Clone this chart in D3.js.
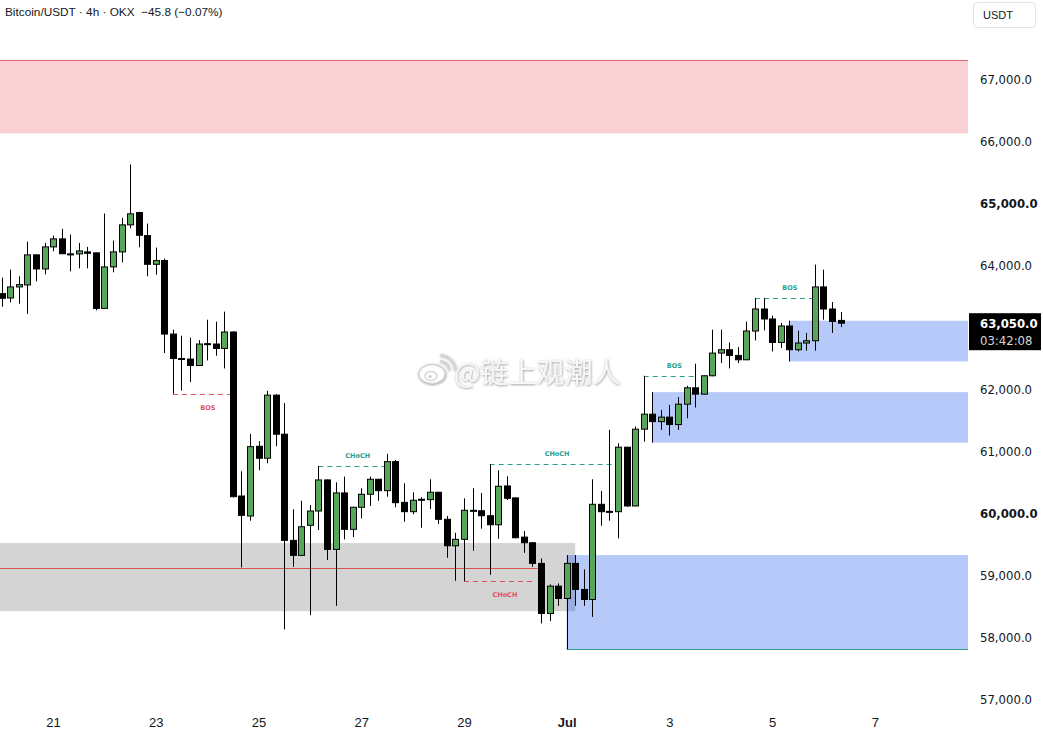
<!DOCTYPE html>
<html>
<head>
<meta charset="utf-8">
<script src="https://cdn.jsdelivr.net/npm/d3@7"></script>
<style>
  html, body { margin: 0; padding: 0; background: #fff; }
  svg { display: block; }
</style>
</head>
<body>
<svg id="chart" width="1043" height="738"></svg>
<script>
// ---------------- DATA ----------------
const startTime = "2024-06-20T00:00:00Z"; // first 4h candle
const candleHours = 4;
const opens = [63527,63457,63635,63667,64152,63925,64281,64410,64168,64168,64200,64184,63289,63958,64200,64636,64835,64463,64000,64060,
  62875,62481,62471,62368,62714,62714,62643,62908,60263,59940,61065,60872,61890,61260,59547,59305,59790,60021,60522,59402,
  60312,59725,60081,60291,60533,60349,60817,60160,60010,60194,60204,60323,59887,59460,59564,60032,60025,59945,59799,60425,
  60232,59600,59509,59176,58368,58809,58610,59176,58756,58594,60129,60010,60010,61050,60102,61341,61583,61463,61535,61415,
  61744,62008,61906,62202,62568,62622,62530,62460,62924,63279,63118,62740,63005,62622,62730,62767,63635,63279,63095];
const highs = [63785,63914,63806,64366,64160,64345,64463,64572,64480,64345,64281,64190,64819,64383,64749,65610,64846,64657,64270,64092,
  62945,62848,62816,62778,63106,63074,63236,62918,60662,61265,61147,61959,61906,61761,60048,60187,60118,60748,60530,60484,
  60575,60090,60388,60575,60540,60942,60845,60468,60323,60242,60533,60330,59940,59670,60226,60388,60312,60780,60678,60581,
  60240,59698,59515,59257,58837,58853,59310,59310,59079,60533,60344,61329,61114,61055,61383,62202,61938,61652,61733,61858,
  62040,62396,62210,62945,62945,62740,62665,63074,63457,63457,63171,63053,63090,62928,62892,63995,63914,63392,63231];
const lows = [63317,63386,63365,63199,63725,63838,64210,64165,63887,63935,63935,63257,63280,63871,64032,64581,64274,63806,63833,62568,
  61911,61964,62100,62360,62449,62525,62320,60240,59111,59864,60678,60791,61066,58110,59121,59300,58341,59714,59229,58491,
  59564,59600,59903,60102,60187,60252,60081,59848,59968,59751,60053,59811,59266,58895,58890,59379,59735,58992,59573,60198,
  59580,59347,59121,58207,58244,58491,57791,58491,58491,58313,59783,59864,59580,60090,60100,61140,61124,61329,61237,61329,
  61518,61690,61900,62195,62407,62320,62407,62455,62772,62934,62594,62649,62433,62594,62606,62606,63106,62892,62988];
const closes = [63451,63635,63672,64152,63925,64281,64410,64170,64160,64216,64177,63289,63958,64200,64636,64814,64468,64000,64060,62875,
  62481,62475,62368,62714,62720,62643,62908,60252,59951,61059,60872,61890,61260,59547,59305,59767,60021,60522,59402,60312,
  59725,60081,60291,60533,60349,60817,60155,60010,60194,60210,60323,59887,59460,59564,60032,60025,59945,59799,60420,60226,
  59590,59509,59176,58368,58809,58610,59176,58756,58594,60129,60010,60015,61050,60102,61341,61583,61463,61535,61415,61744,
  62008,61906,62202,62568,62622,62530,62460,62924,63279,63118,62740,63005,62622,62730,62767,63635,63279,63079,63050];

// price axis ticks
const priceTicks = [57000,58000,59000,60000,61000,62000,64000,65000,66000,67000];
const boldTicks = [60000, 65000];
// date axis ticks and labels
const dateTicks = ["2024-06-21","2024-06-23","2024-06-25","2024-06-27","2024-06-29","2024-07-01","2024-07-03","2024-07-05","2024-07-07"];
const dateLabels = ["21","23","25","27","29","Jul","3","5","7"];

// zones: start candle index (null = left edge), end index (null = right edge), top and bottom prices
const zoneKinds   = ["supply","range","demand","demand","demand"];
const zoneStarts  = [null, null, 66, 76, 92];
const zoneEnds    = [null, 67, null, null, null];
const zoneTops    = [67291, 59504, 59310, 61938, 63090];
const zoneBottoms = [66111, 58405, 57791, 61124, 62433];

// a horizontal level
const levelPrice = 59100, levelEnd = 62.6;

// structure annotations: label, start index, end index, price, side
const annLabels = ["BOS","CHoCH","CHoCH","CHoCH","BOS","BOS"];
const annStart  = [20, 37, 57, 54, 75, 88];
const annEnd    = [27, 45, 71.6, 62.4, 81, 95];
const annPrice  = [61906, 60748, 60780, 58890, 62202, 63457];
const annBull   = [false, true, true, false, true, true];

const lastPrice = 63050;
const countdown = "03:42:08";
const title = "Bitcoin/USDT · 4h · OKX \u00a0−45.8 (−0.07%)";
const watermark = "@链上观潮人";

// ---------------- DRAW ----------------
const W = 1043, Hh = 738, plotRight = 968;
const svg = d3.select("#chart");
svg.append("rect").attr("width", W).attr("height", Hh).attr("fill", "#fff");

const DAY = 864e5;
const t0 = new Date(startTime).getTime();
const pxPerDay = 51.36, firstX = 1.7;
const x = d3.scaleUtc()
  .domain([new Date(t0 - firstX / pxPerDay * DAY), new Date(t0 + (plotRight - firstX) / pxPerDay * DAY)])
  .range([0, plotRight]);
const y = d3.scaleLinear().domain([57000, 67000]).range([698.3, 78.3]);

const tAt = i => new Date(t0 + i * candleHours * 3600e3);
const xi = i => i === null ? null : x(tAt(i));
const step = xi(1) - xi(0);
const bw = Math.round(step * 0.72);

const candles = opens.map((o, i) => ({ i, o, h: highs[i], l: lows[i], c: closes[i] }));

const defs = svg.append("defs");
defs.append("clipPath").attr("id", "plotclip").append("rect")
  .attr("x", 0).attr("y", 0).attr("width", plotRight).attr("height", 710);
const f = defs.append("filter").attr("id", "wm").attr("x", "-10%").attr("y", "-30%").attr("width", "120%").attr("height", "160%");
f.append("feDropShadow").attr("dx", 0.5).attr("dy", 0.8).attr("stdDeviation", 1.2)
  .attr("flood-color", "#7a7a7a").attr("flood-opacity", 0.8);

const plot = svg.append("g").attr("clip-path", "url(#plotclip)");

// zones
const zoneFill = { supply: "#f9d1d5", range: "#d4d4d4", demand: "rgba(41,98,238,0.34)" };
[0, 1, 2, 3, 4].forEach(k => {
  const x0 = zoneStarts[k] === null ? 0 : xi(zoneStarts[k]);
  const x1 = zoneEnds[k] === null ? plotRight : xi(zoneEnds[k]);
  plot.append("rect")
    .attr("x", x0).attr("y", y(zoneTops[k]))
    .attr("width", x1 - x0).attr("height", y(zoneBottoms[k]) - y(zoneTops[k]))
    .attr("fill", zoneFill[zoneKinds[k]]);
  if (zoneKinds[k] === "supply") {
    plot.append("line").attr("x1", x0).attr("x2", x1)
      .attr("y1", Math.round(y(zoneTops[k])) + 0.5).attr("y2", Math.round(y(zoneTops[k])) + 0.5)
      .attr("stroke", "#e06673").attr("stroke-width", 1);
  }
  if (k === 2) {
    plot.append("line").attr("x1", x0).attr("x2", x1)
      .attr("y1", Math.round(y(zoneBottoms[k])) + 0.5).attr("y2", Math.round(y(zoneBottoms[k])) + 0.5)
      .attr("stroke", "#2f9e8f").attr("stroke-width", 1);
  }
});

// level line
plot.append("line").attr("x1", 0).attr("x2", xi(levelEnd))
  .attr("y1", Math.round(y(levelPrice)) + 0.5).attr("y2", Math.round(y(levelPrice)) + 0.5)
  .attr("stroke", "#d9534f").attr("stroke-width", 1);

// annotations
const bullCol = "#2a9d8f", bearCol = "#e0505e";
annLabels.forEach((lab, k) => {
  const col = annBull[k] ? bullCol : bearCol;
  const yy = Math.round(y(annPrice[k])) + 0.5;
  const xa = xi(annStart[k]), xb = xi(annEnd[k]);
  plot.append("line").attr("x1", xa).attr("x2", xb).attr("y1", yy).attr("y2", yy)
    .attr("stroke", col).attr("stroke-width", 1).attr("stroke-dasharray", "5,4");
  plot.append("text").attr("x", (xa + xb) / 2 + 5).attr("y", annBull[k] ? yy - 9 : yy + 15)
    .attr("text-anchor", "middle").attr("font-family", "'DejaVu Sans', sans-serif")
    .attr("font-size", 6.5).attr("font-weight", "bold").attr("fill", col).text(lab);
});

// candles
const cg = plot.append("g");
cg.selectAll("line.wick").data(candles).join("line")
  .attr("x1", d => Math.round(xi(d.i)) + 0.5).attr("x2", d => Math.round(xi(d.i)) + 0.5)
  .attr("y1", d => y(d.h)).attr("y2", d => y(d.l))
  .attr("stroke", "#000").attr("stroke-width", 1);
cg.selectAll("rect.body").data(candles).join("rect")
  .attr("x", d => Math.round(xi(d.i)) + 0.5 - bw / 2)
  .attr("y", d => y(Math.max(d.o, d.c)))
  .attr("width", bw)
  .attr("height", d => Math.max(1, Math.abs(y(d.o) - y(d.c))))
  .attr("fill", d => d.c >= d.o ? "#58a65a" : "#000")
  .attr("stroke", "#000").attr("stroke-width", 1);

// watermark
const wm = svg.append("g").attr("filter", "url(#wm)");
const ic = wm.append("g").attr("transform", "translate(432,374)");
ic.append("ellipse").attr("rx", 13).attr("ry", 9.5).attr("fill", "#fff").attr("stroke", "#d6d6d6").attr("stroke-width", 1.5);
ic.append("ellipse").attr("cx", -1).attr("cy", 2).attr("rx", 6).attr("ry", 4.5).attr("fill", "none").attr("stroke", "#d6d6d6").attr("stroke-width", 1.5);
ic.append("circle").attr("cx", -2).attr("cy", 2.5).attr("r", 1.6).attr("fill", "#cccccc");
ic.append("path").attr("d", "M8,-13 A9,9 0 0 1 17,-4").attr("fill", "none").attr("stroke", "#d6d6d6").attr("stroke-width", 2);
ic.append("path").attr("d", "M8,-19 A15,15 0 0 1 23,-4").attr("fill", "none").attr("stroke", "#d6d6d6").attr("stroke-width", 2);
wm.append("text").attr("x", 454).attr("y", 383)
  .attr("font-family", "'Noto Sans CJK SC', sans-serif").attr("font-size", 28)
  .attr("fill", "#f7f7f7").text(watermark);

// y axis
const yAxis = d3.axisRight(y).tickValues(priceTicks).tickSize(0).tickPadding(0)
  .tickFormat(d3.format(",.1f"));
const yg = svg.append("g").attr("transform", `translate(980,1.5)`).call(yAxis);
yg.select(".domain").remove();
yg.selectAll("text")
  .attr("font-family", "'DejaVu Sans', sans-serif").attr("font-size", 11.7)
  .attr("fill", "#131722")
  .attr("font-weight", d => boldTicks.includes(d) ? "bold" : "normal");

// x axis
const xAxis = d3.axisBottom(x).tickValues(dateTicks.map(s => new Date(s + "T00:00:00Z")))
  .tickSize(0).tickPadding(0).tickFormat((d, i) => dateLabels[i]);
const xg = svg.append("g").attr("transform", `translate(0,718)`).call(xAxis);
xg.select(".domain").remove();
xg.selectAll("text")
  .attr("font-family", "'Liberation Sans', Arial, sans-serif").attr("font-size", 13)
  .attr("fill", "#131722")
  .attr("font-weight", (d, i) => dateLabels[i] === "Jul" ? "bold" : "normal");

// last price tag
const py = y(lastPrice);
svg.append("rect").attr("x", 969).attr("y", py - 10).attr("width", 72).attr("height", 37).attr("fill", "#000");
svg.append("text").attr("x", 980).attr("y", py + 5)
  .attr("font-family", "'DejaVu Sans', sans-serif").attr("font-size", 11.7).attr("font-weight", "bold")
  .attr("fill", "#fff").text(d3.format(",.1f")(lastPrice));
svg.append("text").attr("x", 980).attr("y", py + 22)
  .attr("font-family", "'DejaVu Sans', sans-serif").attr("font-size", 11.7)
  .attr("fill", "#d6d6d6").text(countdown);

// USDT box
svg.append("rect").attr("x", 973.5).attr("y", 2.5).attr("width", 62).attr("height", 25).attr("rx", 4)
  .attr("fill", "#fff").attr("stroke", "#e0e3eb");
svg.append("text").attr("x", 983).attr("y", 19)
  .attr("font-family", "'Liberation Sans', Arial, sans-serif").attr("font-size", 11)
  .attr("fill", "#131722").text("USDT");

// title
svg.append("text").attr("x", 5).attr("y", 16)
  .attr("font-family", "'Liberation Sans', Arial, sans-serif").attr("font-size", 11.8)
  .attr("fill", "#131722").text(title);
</script>
</body>
</html>
